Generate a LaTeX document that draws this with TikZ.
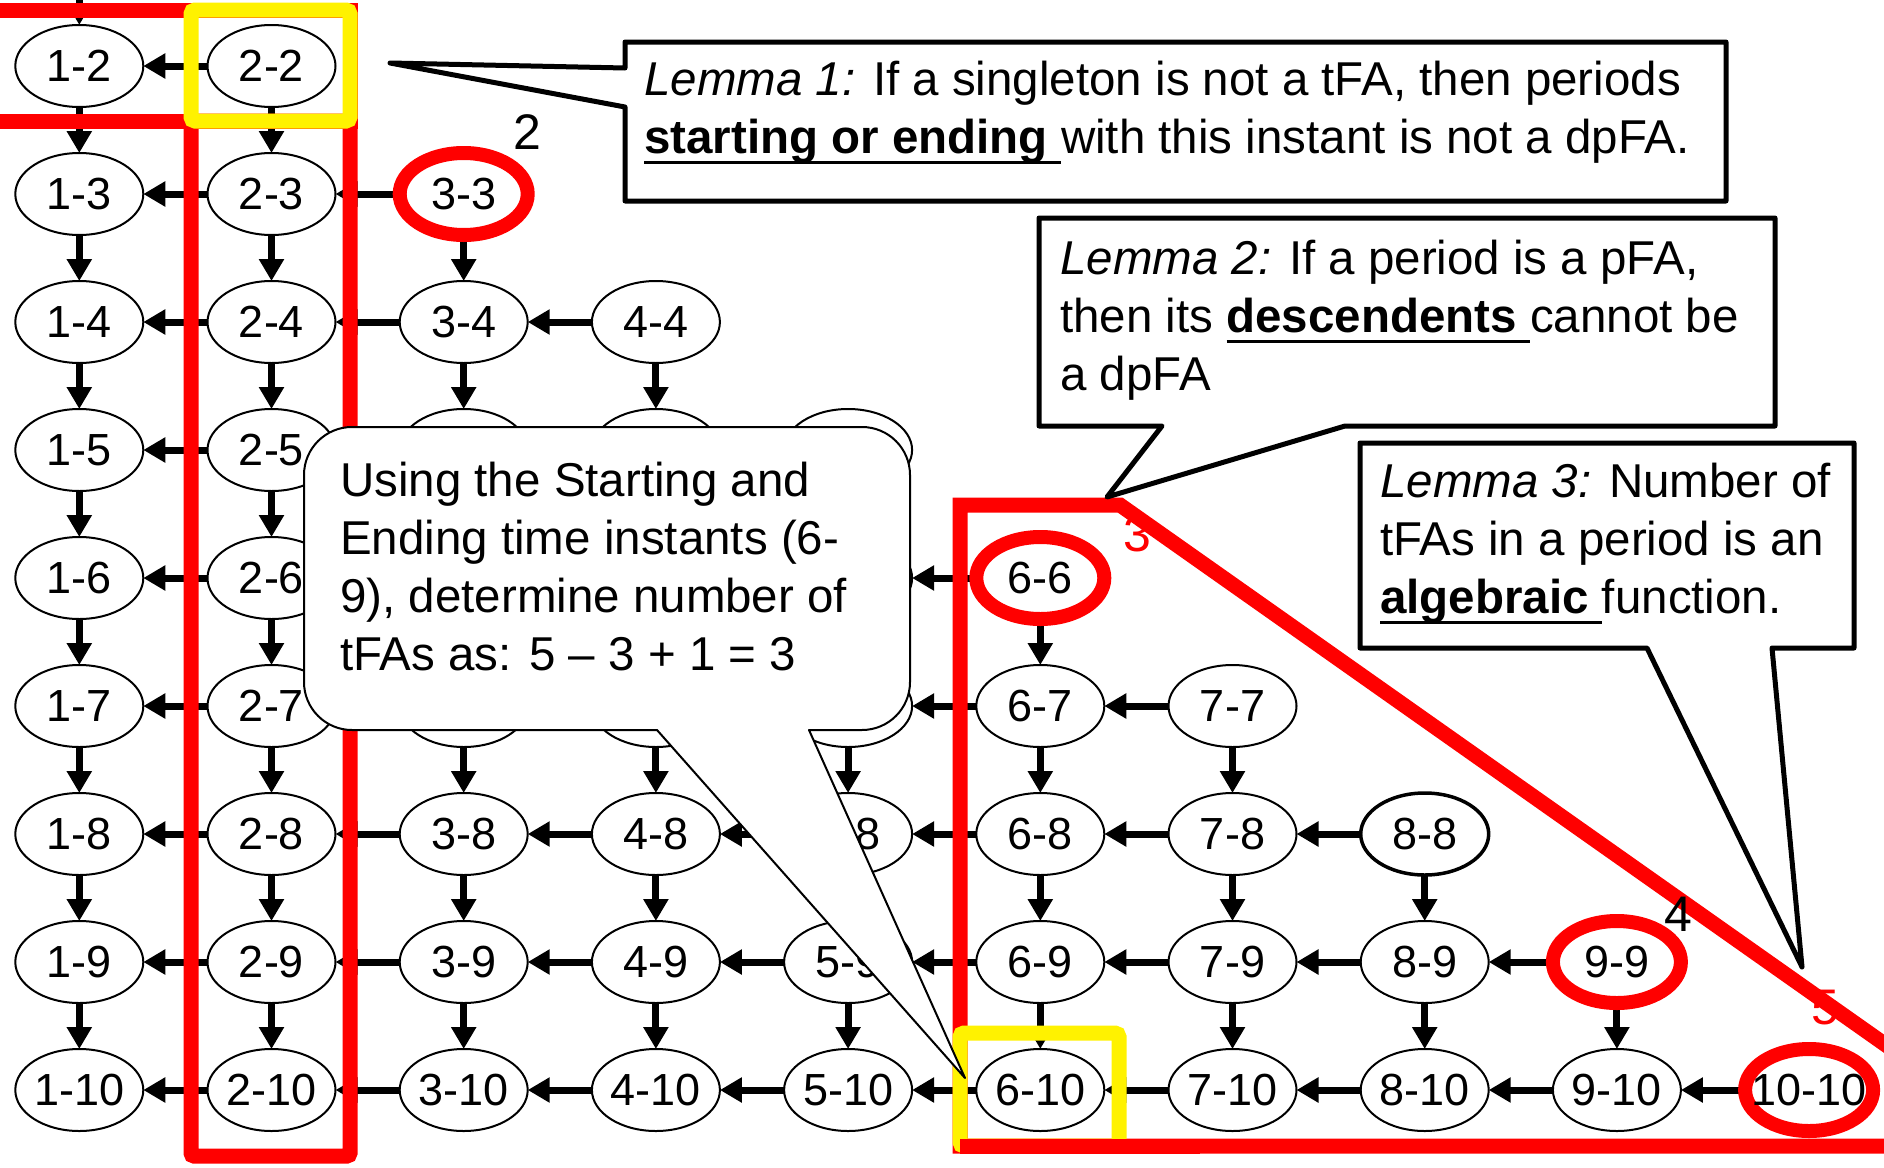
\documentclass[tikz,border=0pt]{standalone}
\usepackage{fontspec}
\setmainfont{Liberation Sans}
\usetikzlibrary{shapes.geometric,arrows.meta}
\pgfdeclarelayer{paper}
\pgfdeclarelayer{links}
\pgfsetlayers{paper,links,main}

\newcommand\numfont{\fontsize{45}{54}\selectfont}
\newcommand\tagfont{\fontsize{50}{60}\selectfont}
\newcommand\lemfont{\fontsize{47.5}{58}\selectfont}
% underline that runs through the descenders
\newcommand\ulspan[1]{\setbox0\hbox{#1}\rlap{\rule[-11pt]{\wd0}{3.5pt}}\box0}

\begin{document}
\begin{tikzpicture}[x=1pt,y=-1pt,
  tnode/.style={ellipse, draw, line width=2pt, fill=white,
    minimum width=128pt, minimum height=82pt, inner sep=0pt, outer sep=0pt,
    font=\numfont},
  hot/.style={draw=red, line width=14pt},
  link/.style={line width=7pt, -{Triangle[length=22pt,width=24pt]}},
  band/.style={draw=red, line width=15pt},
  yband/.style={draw=yellow, line width=15pt, rounded corners=4pt},
  lemma/.style={draw, line width=5pt, fill=white, line join=round},
  bubble/.style={draw, line width=2pt, fill=white, line join=round},
  txt/.style={anchor=base west, inner sep=0pt, font=\lemfont},
  tag/.style={inner sep=0pt, font=\tagfont},
]
\useasboundingbox (0,0) rectangle (1884,1167);
\begin{pgfonlayer}{paper}
  \fill[white] (0,0) rectangle (1884,1167);
\end{pgfonlayer}

% lattice of periods i-j (periods 3..5 x 5..7 sit under the example bubble)
\foreach \j in {2,...,10}{
  \foreach \i in {1,...,\j}{
    \def\lbl{\i-\j}
    \ifnum\i>2 \ifnum\i<6 \ifnum\j>4 \ifnum\j<8 \def\lbl{}\fi\fi\fi\fi
    \node[tnode] (n\i-\j) at ({79.3+(\i-1)*192.2},{66+(\j-2)*128}) {\makebox[0pt]{\lbl}};
  }
}
% singletons that are tFAs
\foreach \k in {3,6,9,10}{
  \node[tnode, hot] (n\k-\k) at (n\k-\k) {\makebox[0pt]{\k-\k}};
}
\node[tnode, line width=3.5pt] (n8-8) at (n8-8) {\makebox[0pt]{8-8}};
\coordinate (n1-1) at (79.3,-21);

% parent -> child links
\begin{pgfonlayer}{links}
  \draw[link] (n1-1) -- (n1-2);
  \foreach \j in {2,...,10}{
    \foreach \i in {1,...,\j}{
      \ifnum\i<\j
        \pgfmathtruncatemacro\ii{\i+1}
        \draw[link] (n\ii-\j) -- (n\i-\j);
      \fi
      \ifnum\j<10
        \pgfmathtruncatemacro\jj{\j+1}
        \draw[link] (n\i-\j) -- (n\i-\jj);
      \fi
    }
  }
\end{pgfonlayer}

% pruned regions
\begin{scope}
  \clip (0,0) rectangle (1884,1167);
  \draw[band] (-40,10) rectangle (350,121);
  \draw[band, rounded corners=3pt] (191,121) rectangle (350,1156);
  \draw[yband] (191,10) rectangle (350,121);
  \draw[band, line join=miter] (2100,1196) -- (1120,505) -- (960,505)
    -- (960,1146) -- (2100,1146);
  \draw[yband] (960,1033) rectangle (1119,1146);
  \draw[band] (960,1146) -- (1200,1146);
\end{scope}

% counters along the diagonal
\node[tag] (lab2) at (527,132) {2};
\node[tag, text=red] (lab3) at (1137,534) {3};
\node[tag] (lab4) at (1678,914) {4};
\node[tag, text=red] (lab5) at (1825,1008) {5};

% Lemma 1
\draw[lemma] (625,42) -- (1726,42) -- (1726,201) -- (625,201) -- (625,107)
  -- (390,63) -- (625,68) -- cycle;
\node[txt] (l1a) at (644,95) {\textit{Lemma 1:} If a singleton is not a tFA, then periods};
\node[txt] (l1b) at (644,153) {\ulspan{\textbf{starting or ending}\ }with this instant is not a dpFA.};

% Lemma 2
\draw[lemma] (1039,218) -- (1775,218) -- (1775,426) -- (1345,426) -- (1107,497)
  -- (1162,426) -- (1039,426) -- cycle;
\node[txt] (l2a) at (1060,274) {\textit{Lemma 2:} If a period is a pFA,};
\node[txt] (l2b) at (1060,332) {then its \ulspan{\textbf{descendents}\ }cannot be};
\node[txt] (l2c) at (1060,390) {a dpFA};

% Lemma 3
\draw[lemma] (1360,443) -- (1854,443) -- (1854,648) -- (1772,648) -- (1802,967)
  -- (1647,648) -- (1360,648) -- cycle;
\node[txt] (l3a) at (1380,497) {\textit{Lemma 3:} Number of};
\node[txt] (l3b) at (1380,555) {tFAs in a period is an};
\node[txt] (l3c) at (1380,613) {\ulspan{\textbf{algebraic}\ }function.};

% worked example bubble pointing at 6-10
\draw[bubble] (352,427) -- (862,427) arc[start angle=-90, end angle=0, radius=48]
  -- (910,682) arc[start angle=0, end angle=90, radius=48]
  -- (809,730) -- (965,1078) -- (657,730)
  -- (352,730) arc[start angle=90, end angle=180, radius=48]
  -- (304,475) arc[start angle=180, end angle=270, radius=48] -- cycle;
\node[txt] (ua) at (340,496) {Using the Starting and};
\node[txt] (ub) at (340,554) {Ending time instants (6-};
\node[txt] (uc) at (340,612) {9), determine number of};
\node[txt] (ud) at (340,670) {tFAs as: 5 \textendash{} 3 + 1 = 3};
\end{tikzpicture}
\end{document}
